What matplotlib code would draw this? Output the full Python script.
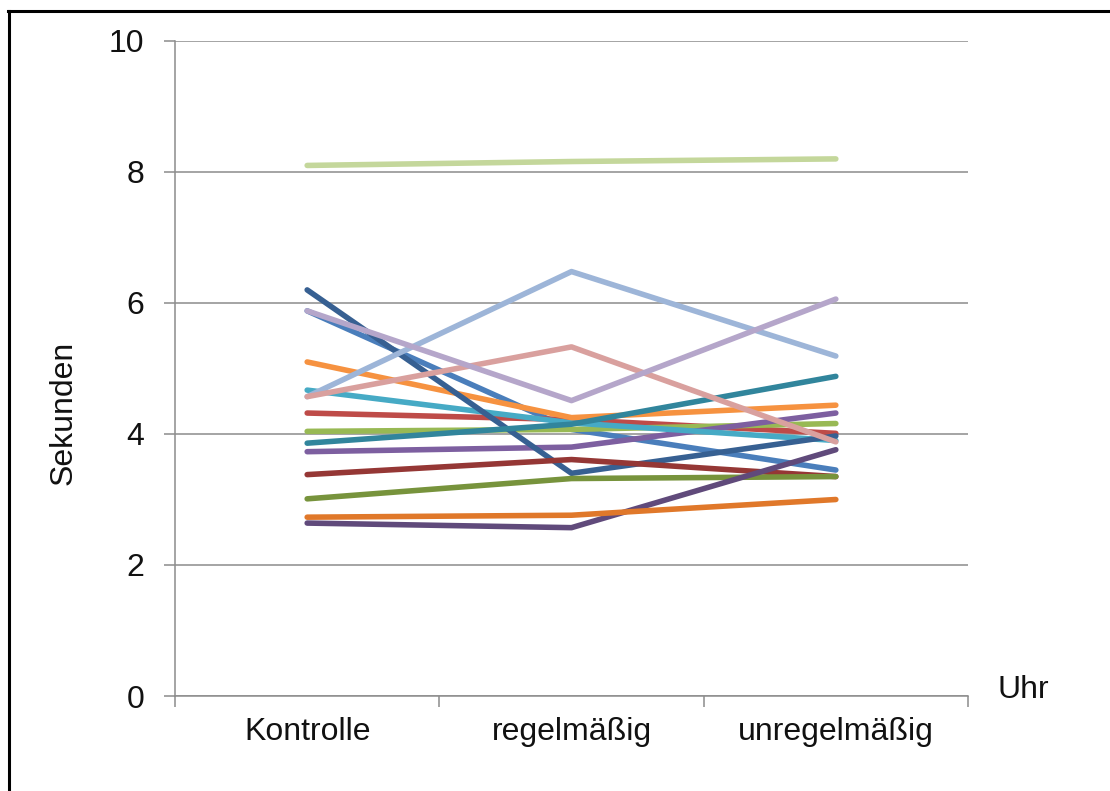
import matplotlib
matplotlib.use("Agg")
import matplotlib.pyplot as plt
from matplotlib.lines import Line2D

plt.rcParams['font.family'] = ['Liberation Sans', 'DejaVu Sans']

categories = ["Kontrolle", "regelmäßig", "unregelmäßig"]
y_ticks = [0, 2, 4, 6, 8, 10]

# one list per participant (seconds), in series order
p01 = [5.88, 4.07, 3.45]
p02 = [4.32, 4.22, 4.01]
p03 = [4.04, 4.07, 4.16]
p04 = [3.73, 3.80, 4.32]
p05 = [4.67, 4.17, 3.90]
p06 = [5.10, 4.25, 4.44]
p07 = [6.20, 3.40, 3.97]
p08 = [3.38, 3.61, 3.35]
p09 = [3.01, 3.32, 3.35]
p10 = [2.64, 2.57, 3.76]
p11 = [3.86, 4.15, 4.88]
p12 = [2.73, 2.76, 3.00]
p13 = [4.57, 6.48, 5.19]
p14 = [4.57, 5.33, 3.88]
p15 = [8.10, 8.16, 8.20]
p16 = [5.88, 4.51, 6.06]

series = [p01, p02, p03, p04, p05, p06, p07, p08,
          p09, p10, p11, p12, p13, p14, p15, p16]
colors = ["#4A7EBB", "#BE4B48", "#98B954", "#7D5FA0", "#46AAC5", "#F69240",
          "#376092", "#953735", "#77933C", "#604A7B", "#31859C", "#E0782A",
          "#9DB5D8", "#D9A09E", "#C4D79B", "#B5A6CA"]

W, H = 1110, 791
fig = plt.figure(figsize=(W / 100, H / 100), dpi=100)
fig.patch.set_facecolor("white")

ax = fig.add_axes([175 / W, (H - 696) / H, (968 - 175) / W, (696 - 41) / H])
x = list(range(len(categories)))
for vals, c in zip(series, colors):
    ax.plot(x, vals, color=c, linewidth=4.0, solid_capstyle='round',
            solid_joinstyle='round', zorder=3)

grid_c = "#8C8C8C"
txt_c = "#111111"
ax.set_xlim(-0.5, len(categories) - 0.5)
ax.set_ylim(0, 10)
ax.set_yticks(y_ticks)
ax.set_yticklabels([str(t) for t in y_ticks])
ax.yaxis.grid(True, color=grid_c, linewidth=1.1, zorder=1)
ax.set_axisbelow(True)

ax.set_xticks(x)
ax.set_xticklabels(categories)
ax.set_xticks([i - 0.5 for i in range(len(categories) + 1)], minor=True)
ax.tick_params(axis='x', which='major', length=0, pad=15, labelsize=23, labelcolor=txt_c)
ax.tick_params(axis='x', which='minor', length=8, width=1.1, color=grid_c, direction='out')
ax.tick_params(axis='y', which='major', length=8, width=1.1, color=grid_c, pad=14,
               labelsize=23, labelcolor=txt_c)

for s in ['top', 'right']:
    ax.spines[s].set_visible(False)
for s in ['left', 'bottom']:
    ax.spines[s].set_color(grid_c)
    ax.spines[s].set_linewidth(1.1)

fig.text(64 / W, 1 - 413 / H, "Sekunden", rotation=90, ha='center', va='center',
         fontsize=23, color=txt_c)
fig.text(998 / W, 1 - 690 / H, "Uhr", ha='left', va='center', fontsize=23, color=txt_c)

# outer frame (top and left edges visible in the reference)
fig.add_artist(Line2D([8 / W, 1.0], [1 - 10.5 / H, 1 - 10.5 / H], color='black', linewidth=2.2,
                      transform=fig.transFigure))
fig.add_artist(Line2D([8.5 / W, 8.5 / W], [0, 1 - 10.5 / H], color='black', linewidth=2.2,
                      transform=fig.transFigure))

fig.savefig("out.png", dpi=100, facecolor="white")
